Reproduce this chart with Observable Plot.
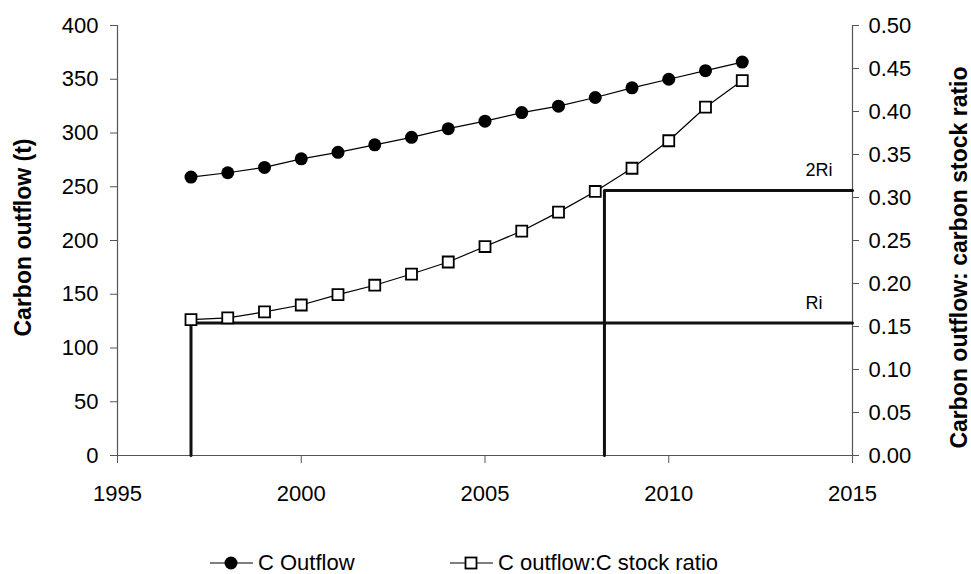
<!DOCTYPE html>
<html>
<head>
<meta charset="utf-8">
<script src="https://cdn.jsdelivr.net/npm/d3@7"></script>
<script src="https://cdn.jsdelivr.net/npm/@observablehq/plot@0.6"></script>
<style>
  html, body { margin: 0; padding: 0; background: #fff; }
  body { position: relative; width: 971px; height: 574px; overflow: hidden; font-family: "Liberation Sans", Arial, sans-serif; }
  #chart { position: absolute; left: 0; top: 0; }
  .legend-item { position: absolute; top: 551px; height: 24px; display: flex; align-items: center; font-size: 22px; color: #000; white-space: nowrap; }
  .legend-item svg { margin-right: 5px; }
</style>
</head>
<body>
<div id="chart"></div>
<div id="legend"></div>
<script>
// ---- data ----
const years = [1997, 1998, 1999, 2000, 2001, 2002, 2003, 2004, 2005, 2006, 2007, 2008, 2009, 2010, 2011, 2012];
const outflow = [259, 263, 268, 276, 282, 289, 296, 304, 311, 319, 325, 333, 342, 350, 358, 366];
const ratio = [0.158, 0.160, 0.167, 0.175, 0.187, 0.198, 0.211, 0.225, 0.243, 0.261, 0.283, 0.307, 0.334, 0.366, 0.405, 0.436];

const thresholdNames = ["Ri", "2Ri"];
const thresholdRatio = [0.154, 0.308];
const thresholdYear = [1997, 2008.25];

const yearTicks = [1995, 2000, 2005, 2010, 2015];
const outflowTicks = [0, 50, 100, 150, 200, 250, 300, 350, 400];
const ratioTicks = [0.00, 0.05, 0.10, 0.15, 0.20, 0.25, 0.30, 0.35, 0.40, 0.45, 0.50];

const seriesNames = ["C Outflow", "C outflow:C stock ratio"];
const leftTitle = "Carbon outflow (t)";
const rightTitle = "Carbon outflow: carbon stock ratio";

// right axis 0.50 corresponds to left axis 400
const K = 400 / 0.5;
const xMin = yearTicks[0], xMax = yearTicks[yearTicks.length - 1];

const outData = years.map((y, i) => ({year: y, v: outflow[i]}));
const ratioData = years.map((y, i) => ({year: y, v: ratio[i] * K}));
const thrPath = thresholdNames.flatMap((n, i) => [
  {g: n, year: thresholdYear[i], v: 0},
  {g: n, year: thresholdYear[i], v: thresholdRatio[i] * K},
  {g: n, year: xMax, v: thresholdRatio[i] * K}
]);
const thrLabels = thresholdNames.map((n, i) => ({name: n, year: xMax, v: thresholdRatio[i] * K}));

const axisColor = "#555";

const chart = Plot.plot({
  width: 971,
  height: 530,
  marginTop: 25,
  marginBottom: 75,
  marginLeft: 117,
  marginRight: 119,
  x: {domain: [xMin, xMax]},
  y: {domain: [0, 400]},
  style: {fontFamily: "'Liberation Sans', Arial, sans-serif", fontSize: "22px", color: "#000", background: "#fff"},
  marks: [
    Plot.ruleX([xMin], {stroke: axisColor, strokeWidth: 1.2}),
    Plot.ruleX([xMax], {stroke: axisColor, strokeWidth: 1.2}),
    Plot.ruleY([0], {stroke: axisColor, strokeWidth: 1.2}),
    Plot.axisY(outflowTicks, {anchor: "left", tickSize: 7, tickPadding: 12, label: null, stroke: axisColor, fill: "#000", fontSize: 22}),
    Plot.axisY(ratioTicks.map(r => r * K), {anchor: "right", tickSize: 6, tickPadding: 10, label: null, tickFormat: d => (d / K).toFixed(2), stroke: axisColor, fill: "#000", fontSize: 22}),
    Plot.axisX(yearTicks, {anchor: "bottom", tickSize: 8, tickPadding: 22, label: null, tickFormat: d => String(d), stroke: axisColor, fill: "#000", fontSize: 22}),
    Plot.line(thrPath, {x: "year", y: "v", z: "g", stroke: "#111", strokeWidth: 3}),
    Plot.text(thrLabels, {x: "year", y: "v", text: "name", dx: -47, dy: -20, textAnchor: "start", fontSize: 18, fill: "#000"}),
    Plot.line(outData, {x: "year", y: "v", stroke: "#000", strokeWidth: 1.2}),
    Plot.dot(outData, {x: "year", y: "v", r: 6.5, fill: "#000", stroke: "none"}),
    Plot.line(ratioData, {x: "year", y: "v", stroke: "#000", strokeWidth: 1.2}),
    Plot.dot(ratioData, {x: "year", y: "v", symbol: "square", r: 6.2, fill: "#fff", stroke: "#000", strokeWidth: 1.8}),
    Plot.text([leftTitle], {frameAnchor: "left", textAnchor: "middle", dx: -94, dy: -3, rotate: -90, fontWeight: "bold", fontSize: 23, fill: "#000"}),
    Plot.text([rightTitle], {frameAnchor: "right", textAnchor: "middle", dx: 107, dy: 17, rotate: -90, fontWeight: "bold", fontSize: 23, fill: "#000"})
  ]
});
document.getElementById("chart").appendChild(chart);

// legend
const legend = document.getElementById("legend");
const lefts = [210, 450];
seriesNames.forEach((name, i) => {
  const item = document.createElement("div");
  item.className = "legend-item";
  item.style.left = lefts[i] + "px";
  const marker = i === 0
    ? '<circle cx="21" cy="12" r="6.5" fill="#000"/>'
    : '<rect x="15.5" y="6.5" width="11" height="11" fill="#fff" stroke="#000" stroke-width="1.8"/>';
  item.innerHTML = '<svg width="43" height="24"><line x1="0" y1="12" x2="43" y2="12" stroke="#000" stroke-width="1.2"/>' + marker + '</svg><span>' + name + '</span>';
  legend.appendChild(item);
});
</script>
</body>
</html>
